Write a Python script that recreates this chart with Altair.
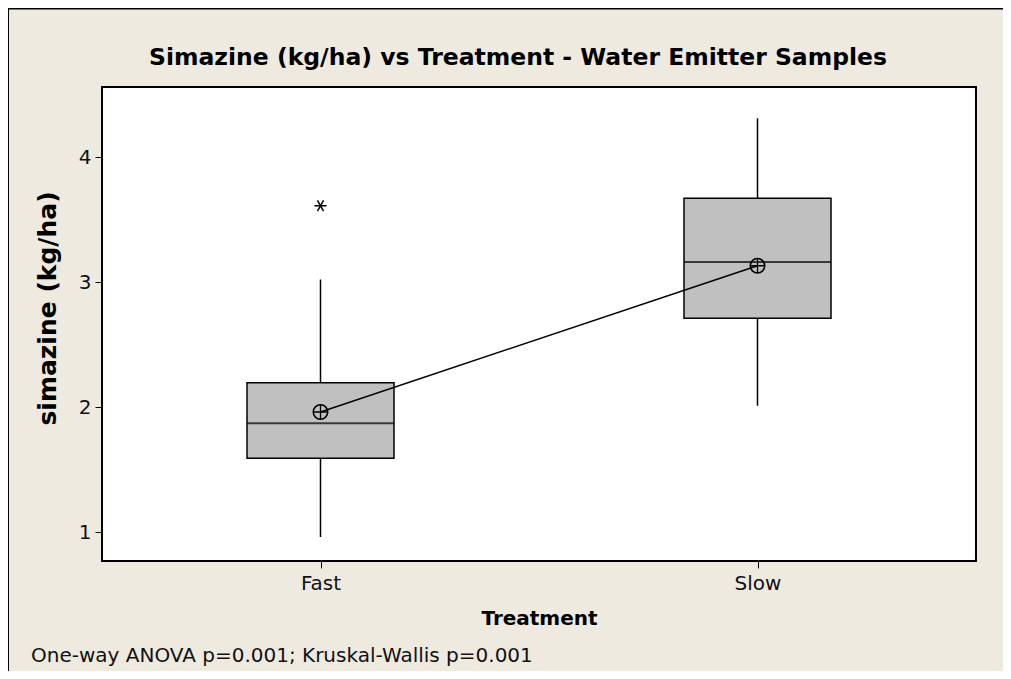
import altair as alt
import pandas as pd

treatment = ["Fast", "Slow"]
whisker_low = [0.96, 2.01]
q1 = [1.59, 2.71]
median = [1.87, 3.16]
q3 = [2.195, 3.67]
whisker_high = [3.02, 4.31]
mean = [1.96, 3.13]
outlier_group = ["Fast"]
outlier_value = [3.61]

y_ticks = [1, 2, 3, 4]
y_domain = [0.768, 4.56]

title_text = "Simazine (kg/ha) vs Treatment - Water Emitter Samples"
note_text = "One-way ANOVA p=0.001; Kruskal-Wallis p=0.001"

df = pd.DataFrame({
    "Treatment": treatment, "lo": whisker_low, "q1": q1, "med": median,
    "q3": q3, "hi": whisker_high, "mean": mean,
})
out_df = pd.DataFrame({"Treatment": outlier_group, "v": outlier_value})

FONT = "DejaVu Sans"
BOX_W = 147

xscale = alt.Scale(type="point", padding=0.5, domain=treatment)
yscale = alt.Scale(domain=y_domain, nice=False, zero=False)

x_enc = alt.X("Treatment:N", scale=xscale, sort=treatment,
              axis=alt.Axis(title="Treatment", labelAngle=0, domain=False,
                            tickSize=7, tickColor="black", tickWidth=1,
                            labelFontSize=20, labelColor="#111",
                            labelFont=FONT, labelPadding=5,
                            titleFont=FONT, titleFontSize=20,
                            titleFontWeight="bold", titleColor="black",
                            titleY=63, titleBaseline="alphabetic"))

base = alt.Chart(df)

whisk_low = base.mark_rule(color="black", strokeWidth=1.5).encode(
    x=x_enc,
    y=alt.Y("lo:Q", scale=yscale,
            axis=alt.Axis(values=y_ticks, format="d", title="simazine (kg/ha)",
                          grid=False, domain=False, tickSize=7,
                          tickColor="black", labelFontSize=20,
                          labelColor="#111", labelFont=FONT, labelPadding=4,
                          titleFont=FONT, titleFontSize=25,
                          titleFontWeight="bold", titleColor="black",
                          titleAngle=270, titleX=-55, titleY=221,
                          titleAlign="center", titleBaseline="middle")),
    y2="q1:Q",
)
whisk_high = base.mark_rule(color="black", strokeWidth=1.5).encode(
    x=alt.X("Treatment:N", scale=xscale, sort=treatment),
    y=alt.Y("q3:Q", scale=yscale), y2="hi:Q",
)
box = base.mark_bar(size=BOX_W, fill="#C0C0C0", stroke="black",
                    strokeWidth=1.5).encode(
    x=alt.X("Treatment:N", scale=xscale, sort=treatment),
    y=alt.Y("q1:Q", scale=yscale), y2="q3:Q",
)
med = base.mark_tick(size=BOX_W, thickness=1.8, color="black",
                     orient="horizontal").encode(
    x=alt.X("Treatment:N", scale=xscale, sort=treatment),
    y=alt.Y("med:Q", scale=yscale),
)
mean_line = base.mark_line(color="black", strokeWidth=1.5).encode(
    x=alt.X("Treatment:N", scale=xscale, sort=treatment),
    y=alt.Y("mean:Q", scale=yscale),
)
mean_circle = base.mark_point(shape="circle", size=210, stroke="black",
                              strokeWidth=1.5, filled=False, opacity=1).encode(
    x=alt.X("Treatment:N", scale=xscale, sort=treatment),
    y=alt.Y("mean:Q", scale=yscale),
)
mean_cross = base.mark_point(shape="M-1,0L1,0M0,-1L0,1", size=210,
                             stroke="black", strokeWidth=1.3, filled=False,
                             opacity=1).encode(
    x=alt.X("Treatment:N", scale=xscale, sort=treatment),
    y=alt.Y("mean:Q", scale=yscale),
)
outlier = alt.Chart(out_df).mark_point(
    shape="M-1,0L1,0M-0.5,-0.87L0.5,0.87M-0.5,0.87L0.5,-0.87",
    size=150, stroke="black", strokeWidth=1.5, filled=False, opacity=1,
).encode(
    x=alt.X("Treatment:N", scale=xscale, sort=treatment),
    y=alt.Y("v:Q", scale=yscale),
)

title = alt.Chart(pd.DataFrame({"t": [title_text]})).mark_text(
    align="center", baseline="alphabetic", fontSize=23.5, font=FONT,
    fontWeight="bold", color="black",
).encode(x=alt.value(416), y=alt.value(-22), text="t:N")

note = alt.Chart(pd.DataFrame({"t": [note_text]})).mark_text(
    align="left", baseline="alphabetic", fontSize=20, font=FONT,
    color="#111",
).encode(x=alt.value(-71), y=alt.value(575), text="t:N")

frame_left = alt.Chart(pd.DataFrame({"a": [0]})).mark_rule(
    color="black", strokeWidth=2).encode(
    x=alt.value(-94), y=alt.value(-79), y2=alt.value(600))
frame_top = alt.Chart(pd.DataFrame({"a": [0]})).mark_rule(
    color="black", strokeWidth=2).encode(
    x=alt.value(-94), x2=alt.value(920), y=alt.value(-78.5))

chart = alt.layer(
    whisk_low, whisk_high, box, med, mean_line, mean_circle, mean_cross,
    outlier, title, note, frame_left, frame_top,
).properties(
    width=874, height=474,
    background="#EEEAE0",
    padding={"left": 94, "top": 79, "right": 27, "bottom": 110},
    autosize=alt.AutoSizeParams(type="none"),
).configure_view(
    stroke="black", strokeWidth=2, fill="white",
)

chart.save("out.html", embed_options={"renderer": "svg", "actions": False})
